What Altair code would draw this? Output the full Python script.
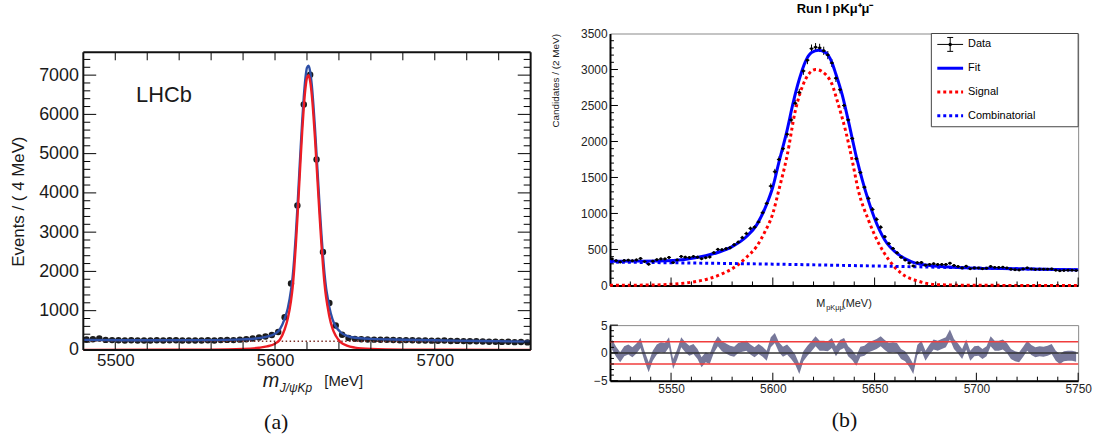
import altair as alt
import pandas as pd

FONT = "Liberation Sans"
SERIF = "Liberation Serif"

# ---------------- panel (a) ----------------
a_mass = list(range(5482, 5760, 4))
a_events = [265, 270, 290, 255, 250, 245, 240, 245, 240, 238,
            242, 245, 240, 248, 245, 240, 242, 238, 240, 245,
            242, 250, 255, 250, 262, 270, 290, 318, 340, 380,
            455, 834, 1693, 3682, 6250, 7008, 4852, 2494, 1195, 624,
            387, 303, 282, 272, 266, 262, 258, 260, 252, 248,
            250, 246, 242, 240, 236, 232, 238, 226, 230, 224,
            220, 222, 214, 210, 208, 204, 206, 198, 200, 192]
a_fit_m = [5480, 5520, 5560, 5580, 5590, 5595, 5600, 5603, 5606, 5608, 5610,
           5611, 5612, 5613, 5614, 5615, 5616, 5617, 5618, 5619, 5620,
           5621, 5622, 5623, 5624, 5625, 5626, 5627, 5628, 5629, 5630,
           5631, 5632, 5633, 5634,
           5636, 5638, 5641, 5645, 5650, 5660, 5680, 5700, 5730, 5760]
a_fit_n = [255, 245, 248, 268, 300, 340, 410, 520, 790, 1060, 1520,
           1850, 2320, 2920, 3610, 4360, 5110, 5820, 6440, 6910, 7190,
           7240, 7090, 6750, 6250, 5650, 4970, 4280, 3600, 2970, 2410,
           1930, 1570, 1320, 1090,
           780, 600, 450, 360, 310, 280, 260, 245, 228, 210]
a_sig_m = [5480, 5560, 5580, 5590, 5595, 5600, 5603, 5606, 5608, 5610,
           5611, 5612, 5613, 5614, 5615, 5616, 5617, 5618, 5619, 5620,
           5621, 5622, 5623, 5624, 5625, 5626, 5627, 5628, 5629, 5630,
           5631, 5632, 5633, 5634,
           5636, 5638, 5641, 5645, 5650, 5660, 5680, 5760]
a_sig_n = [0, 8, 25, 55, 90, 160, 260, 520, 800, 1250,
           1580, 2060, 2660, 3350, 4100, 4850, 5560, 6180, 6650, 6930,
           7000, 6840, 6500, 6000, 5400, 4720, 4030, 3350, 2720, 2160,
           1680, 1330, 1080, 850,
           540, 360, 200, 110, 60, 25, 8, 0]
a_bkg_m = [5480, 5760]
a_bkg_n = [228, 212]
a_xlabels = [5500, 5600, 5700]
a_ylabels = [0, 1000, 2000, 3000, 4000, 5000, 6000, 7000]
a_xticks = list(range(5500, 5760, 20))
a_ymajor = [1000, 2000, 3000, 4000, 5000, 6000, 7000]
a_yminor = [v for v in range(200, 7580, 200) if v % 1000]

# ---------------- panel (b) ----------------
b_mass = list(range(5521, 5750, 2))
b_cand = [368, 344, 325, 346, 351, 342, 355, 373, 331, 295,
          336, 358, 368, 368, 389, 317, 354, 402, 392, 388,
          402, 392, 371, 385, 395, 455, 500, 495, 510, 525,
          565, 600, 663, 720, 790, 808, 880, 1010, 1140, 1380,
          1580, 1750, 1900, 2100, 2300, 2530, 2680, 2980, 3130, 3290,
          3310, 3300, 3260, 3200, 3090, 2880, 2720, 2500, 2300, 2040,
          1760, 1568, 1365, 1209, 1056, 917, 808, 675, 581, 512,
          454, 391, 354, 311, 270, 317, 320, 282, 292, 300,
          291, 291, 291, 309, 277, 262, 243, 266, 232, 243,
          242, 232, 238, 264, 251, 250, 252, 242, 224, 217,
          214, 228, 244, 230, 223, 226, 224, 226, 230, 212,
          203, 209, 211, 210, 207]
b_pull = [1.5, 0.2, -0.8, 0.3, 0.6, 0.1, 0.8, 1.8, -0.6, -2.6,
          -0.5, 0.6, 1.0, 0.9, 1.9, -2.0, -0.3, 1.9, 1.0, 0.4,
          0.7, -0.2, -1.7, -0.8, -1.1, 0.9, 2.1, 1.2, 0.8, 0.4,
          0.2, 0.9, 1.1, 1.3, 0.6, 0.1, 0.7, 0.2, -0.5, 1.9,
          2.7, 1.0, 0.2, 0.6, -0.2, -1.2, -2.9, -0.6, 0.4, 1.2,
          2.1, 1.3, 1.3, 1.2, 1.8, 0.3, 1.4, 1.8, 0.3, -0.4,
          -1.4, 0.2, 0.4, 1.0, 1.3, 1.6, 2.1, 1.4, 0.9, 1.0,
          0.9, -0.2, -0.6, -1.6, -2.9, 0.5, 1.3, -0.5, 0.6, 1.5,
          1.3, 1.6, 1.9, 3.3, 1.6, 0.8, -0.2, 1.5, -0.5, 0.3,
          0.4, -0.2, 0.3, 2.1, 1.3, 1.3, 1.5, 0.9, -0.2, -0.6,
          -0.8, 0.2, 1.3, 0.5, 0.1, 0.3, 0.2, 0.4, 0.7, -0.5,
          -1.1, -0.6, -0.5, -0.5, -0.7]
b_fit_m = [5520, 5535, 5551, 5564, 5574, 5580, 5587, 5592, 5597, 5600,
           5603, 5607, 5610, 5613, 5616, 5619, 5622.5, 5626, 5629, 5631,
           5634, 5637, 5641, 5644, 5647, 5650, 5655, 5662, 5668, 5678,
           5696, 5720, 5750]
b_fit_n = [336, 338, 348, 395, 468, 540, 677, 838, 1130, 1368,
           1713, 2155, 2540, 2864, 3110, 3235, 3268, 3232, 3100, 2934,
           2657, 2300, 1790, 1460, 1175, 930, 631, 424, 331, 274,
           244, 231, 217]
b_sig_m = [5520, 5540, 5551, 5560, 5568, 5575, 5582, 5587, 5592, 5596,
           5600, 5603, 5607, 5611, 5616, 5618, 5621, 5624, 5626, 5629,
           5632, 5636, 5639, 5642, 5647, 5652, 5657, 5663, 5672, 5680,
           5700, 5750]
b_sig_n = [2, 6, 19, 45, 90, 160, 270, 390, 540, 740,
           1000, 1330, 1800, 2420, 2860, 2950, 3000, 2975, 2930, 2800,
           2530, 2120, 1736, 1322, 907, 585, 355, 171, 55, 12,
           2, 0]
b_comb_m = [5520, 5550, 5600, 5630, 5660, 5690, 5720, 5750]
b_comb_n = [325, 315, 296, 281, 265, 248, 231, 216]
b_xlabels = [5550, 5600, 5650, 5700, 5750]
b_ylabels = [0, 500, 1000, 1500, 2000, 2500, 3000, 3500]
b_xmajor = [5550, 5600, 5650, 5700, 5750]
b_xminor = [v for v in range(5530, 5750, 10) if v % 50]
b_ymajor = [500, 1000, 1500, 2000, 2500, 3000]
b_yminor = [v for v in range(100, 3500, 100) if v % 500]
p_ylabels = [-5, 0, 5]
p_ymajor = [-5, 0, 5]
p_yminor = [-4, -3, -2, -1, 1, 2, 3, 4]
p_red = [-2, 2]
p_zero = [0]
legend_labels = ["Data", "Fit", "Signal", "Combinatorial"]
title_b = "Run I pKμ⁺μ⁻"


def frame(**cols):
    return pd.DataFrame(cols)


def xrules(vals, scale, axis, y0, y1, color="#000", w=1):
    return alt.Chart(frame(v=vals)).mark_rule(color=color, strokeWidth=w).encode(
        x=alt.X("v:Q", scale=scale, axis=axis), y=alt.value(y0), y2=alt.value(y1))


def yrules(vals, scale, axis, x0, x1, color="#000", w=1):
    return alt.Chart(frame(v=vals)).mark_rule(color=color, strokeWidth=w).encode(
        y=alt.Y("v:Q", scale=scale, axis=axis), x=alt.value(x0), x2=alt.value(x1))


def seg(x0, x1, y0, y1, color="#000", w=1, dash=None):
    kw = dict(color=color, strokeWidth=w)
    if dash:
        kw["strokeDash"] = dash
    return alt.Chart(frame(k=[0])).mark_rule(**kw).encode(
        x=alt.value(x0), x2=alt.value(x1), y=alt.value(y0), y2=alt.value(y1))


def label(text, x, y, size, style="normal", color="#1a1a1a", align="left",
          baseline="alphabetic", font=FONT, weight="normal"):
    return alt.Chart(frame(t=[text])).mark_text(
        font=font, fontSize=size, fontStyle=style, color=color, align=align,
        baseline=baseline, fontWeight=weight).encode(
        x=alt.value(x), y=alt.value(y), text="t:N")


def xy(scx, axx, scy, axy, yfield="n:Q"):
    return dict(x=alt.X("m:Q", scale=scx, axis=axx), y=alt.Y(yfield, scale=scy, axis=axy))


# ================= left chart =================
WA, HA = 451, 300
xa = alt.Scale(domain=[5480, 5760], nice=False, zero=False)
ya = alt.Scale(domain=[0, 7580], nice=False, zero=True)

ax_ax = alt.Axis(values=a_xlabels, format="d", ticks=False, tickSize=0, domain=False,
                 grid=False, labelFontSize=17, labelPadding=3, labelColor="#1a1a1a",
                 labelFlush=False, labelOverlap=False,
                 title="(a)", titleFont=SERIF, titleFontSize=22, titleFontWeight="normal",
                 titleColor="#111", titlePadding=43, titleX=194)
ax_ay = alt.Axis(values=a_ylabels, format="d", ticks=False, tickSize=0, domain=False,
                 grid=False, labelFontSize=18, labelPadding=5, labelColor="#1a1a1a",
                 labelFlush=False, labelOverlap=False,
                 title="Events / ( 4 MeV)", titleFontSize=17, titleFontWeight="normal",
                 titleColor="#1a1a1a", titlePadding=11)

a_pts = alt.Chart(frame(m=a_mass, n=a_events)).mark_circle(
    size=42, color="#1c1c1c", opacity=1).encode(**xy(xa, ax_ax, ya, ax_ay))
a_bkg = alt.Chart(frame(m=a_bkg_m, n=a_bkg_n)).mark_line(
    color="#7b2d26", strokeWidth=1.5, strokeDash=[1.5, 2.5]).encode(**xy(xa, ax_ax, ya, ax_ay))
a_fit = alt.Chart(frame(m=a_fit_m, n=a_fit_n)).mark_line(
    color="#2d4fa6", strokeWidth=2.4, interpolate="monotone").encode(**xy(xa, ax_ax, ya, ax_ay))
a_sig = alt.Chart(frame(m=a_sig_m, n=a_sig_n)).mark_line(
    color="#ec1c24", strokeWidth=2.4, interpolate="monotone").encode(**xy(xa, ax_ax, ya, ax_ay))
lhcb = alt.Chart(frame(m=[5513], n=[6320], t=["LHCb"])).mark_text(
    fontSize=22, align="left", baseline="alphabetic", color="#1a1a1a").encode(
    text="t:N", **xy(xa, ax_ax, ya, ax_ay))

a_ticks = [
    xrules(a_xticks, xa, ax_ax, HA, HA - 8),
    xrules(a_xticks, xa, ax_ax, 0, 8),
    yrules(a_ymajor, ya, ax_ay, 0, 13),
    yrules(a_yminor, ya, ax_ay, 0, 7),
    yrules(a_ymajor, ya, ax_ay, WA, WA - 13),
    yrules(a_yminor, ya, ax_ay, WA, WA - 7),
    seg(0, WA, 0, 0, "#111", 2),
    seg(0, WA, HA, HA, "#111", 2),
    seg(0, 0, 0, HA, "#111", 2),
    seg(WA, WA, 0, HA, "#111", 2),
]
a_xtitle = [
    label("m", 181, HA + 37, 20, style="italic"),
    label("J/ψKp", 198, HA + 42, 12, style="italic"),
    label("[MeV]", 243, HA + 36, 15),
]

left = alt.layer(a_pts, a_bkg, a_fit, a_sig, lhcb, *a_ticks, *a_xtitle).properties(
    width=WA, height=HA,
    view=alt.ViewBackground(strokeOpacity=0, fill="white"))

spacer = alt.Chart(frame(k=[0])).mark_point(opacity=0).encode(
    x=alt.value(0), y=alt.value(0)).properties(
    width=WA, height=1, view=alt.ViewBackground(strokeOpacity=0, fillOpacity=0))
left_col = alt.vconcat(spacer, left, spacing=18, bounds="flush")

# ================= right main chart =================
WB, HB = 472, 254
xb = alt.Scale(domain=[5520, 5750], nice=False, zero=False)
yb = alt.Scale(domain=[0, 3500], nice=False, zero=True)

ax_bx = alt.Axis(labels=False, ticks=False, tickSize=0, domain=True, domainColor="#000",
                 domainWidth=2, grid=False, title="")
ax_by = alt.Axis(values=b_ylabels, format="d", ticks=False, tickSize=0, domain=True,
                 domainColor="#000", domainWidth=2, grid=False, labelFontSize=12,
                 labelPadding=3, labelColor="#222", labelFlush=False, labelOverlap=False,
                 title="Candidates / (2 MeV)", titleFontSize=10, titleFontWeight="normal",
                 titleColor="#222", titleAnchor="end", titlePadding=20)

b_df = frame(m=b_mass, n=b_cand)
b_yerr = alt.Chart(b_df).transform_calculate(
    lo="datum.n - sqrt(datum.n)", hi="datum.n + sqrt(datum.n)").mark_rule(
    color="#000", strokeWidth=1).encode(y2="hi:Q", **xy(xb, ax_bx, yb, ax_by, "lo:Q"))
b_xerr = alt.Chart(b_df).transform_calculate(
    l="datum.m - 1", r="datum.m + 1").mark_rule(color="#000", strokeWidth=1).encode(
    x=alt.X("l:Q", scale=xb, axis=ax_bx), x2="r:Q", y=alt.Y("n:Q", scale=yb, axis=ax_by))
b_pts = alt.Chart(b_df).mark_circle(size=9, color="#000", opacity=1).encode(
    **xy(xb, ax_bx, yb, ax_by))
b_sig = alt.Chart(frame(m=b_sig_m, n=b_sig_n)).mark_line(
    color="#ff0000", strokeWidth=3, strokeDash=[3, 3], interpolate="monotone").encode(
    **xy(xb, ax_bx, yb, ax_by))
b_comb = alt.Chart(frame(m=b_comb_m, n=b_comb_n)).mark_line(
    color="#0000ff", strokeWidth=3, strokeDash=[3, 3], interpolate="monotone").encode(
    **xy(xb, ax_bx, yb, ax_by))
b_fit = alt.Chart(frame(m=b_fit_m, n=b_fit_n)).mark_line(
    color="#0000ff", strokeWidth=3, interpolate="monotone").encode(
    **xy(xb, ax_bx, yb, ax_by))

b_ticks = [
    xrules(b_xmajor, xb, ax_bx, HB, HB - 8),
    xrules(b_xminor, xb, ax_bx, HB, HB - 4),
    yrules(b_ymajor, yb, ax_by, 0, 8),
    yrules(b_yminor, yb, ax_by, 0, 4),
]

rows_y = [11, 35, 59, 83]
legend = [
    alt.Chart(frame(k=[0])).mark_rect(fill="white", stroke="#444", strokeWidth=1).encode(
        x=alt.value(324), x2=alt.value(472), y=alt.value(0), y2=alt.value(94)),
    seg(343, 343, rows_y[0] - 7, rows_y[0] + 7, "#000", 1),
    seg(340, 346, rows_y[0] - 7, rows_y[0] - 7, "#000", 1),
    seg(340, 346, rows_y[0] + 7, rows_y[0] + 7, "#000", 1),
    seg(330, 356, rows_y[0], rows_y[0], "#000", 1),
    seg(330, 356, rows_y[1], rows_y[1], "#0000ff", 3),
    seg(330, 356, rows_y[2], rows_y[2], "#ff0000", 3, [3, 3]),
    seg(330, 356, rows_y[3], rows_y[3], "#0000ff", 3, [3, 3]),
    alt.Chart(frame(k=[0])).mark_circle(size=12, color="#000", opacity=1).encode(
        x=alt.value(343), y=alt.value(rows_y[0])),
]
legend += [label(t, 361, yy, 11, color="#000", baseline="middle")
           for t, yy in zip(legend_labels, rows_y)]

b_xtitle = [
    label("M", 208, HB + 22, 11, color="#222"),
    label("pKμμ", 218, HB + 25, 7.5, color="#222"),
    label("(MeV)", 234, HB + 22, 11, color="#222"),
]

main_b = alt.layer(b_yerr, b_sig, b_comb, b_fit, b_xerr, b_pts, *b_ticks, *legend,
                   *b_xtitle).properties(
    width=WB, height=HB,
    title=alt.TitleParams(text=title_b, fontSize=13, fontWeight="bold", anchor="middle",
                          dx=-9, offset=12, color="#000"),
    view=alt.ViewBackground(stroke="#888", strokeWidth=1, fill="white"))

# ================= pull chart =================
HP = 56
yp = alt.Scale(domain=[-5, 5], nice=False, zero=False)
ax_px = alt.Axis(values=b_xlabels, format="d", ticks=False, tickSize=0, domain=True,
                 domainColor="#000", domainWidth=2, grid=False, labelFontSize=12,
                 labelPadding=3, labelColor="#222", labelFlush=False, labelOverlap=False,
                 title="(b)", titleFont=SERIF, titleFontSize=22, titleFontWeight="normal",
                 titleColor="#111", titlePadding=15)
ax_py = alt.Axis(values=p_ylabels, format="d", ticks=False, tickSize=0, domain=True,
                 domainColor="#000", domainWidth=2, grid=False, labelFontSize=12,
                 labelPadding=3, labelColor="#222", labelFlush=False, labelOverlap=False,
                 title="")

p_band = alt.Chart(frame(m=b_mass, p=b_pull)).transform_calculate(
    lo="datum.p - 0.9", hi="datum.p + 0.9").mark_area(color="#77789a", opacity=1).encode(
    y2="hi:Q", **xy(xb, ax_px, yp, ax_py, "lo:Q"))
p_redl = alt.Chart(frame(v=p_red)).mark_rule(color="#f03c3c", strokeWidth=1.5).encode(
    y=alt.Y("v:Q", scale=yp, axis=ax_py))
p_zerol = alt.Chart(frame(v=p_zero)).mark_rule(color="#333", strokeWidth=1.5).encode(
    y=alt.Y("v:Q", scale=yp, axis=ax_py))
p_ticks = [
    xrules(b_xmajor, xb, ax_px, HP, HP - 8),
    xrules(b_xminor, xb, ax_px, HP, HP - 4),
    yrules(p_ymajor, yp, ax_py, 0, 8),
    yrules(p_yminor, yp, ax_py, 0, 4),
]
pull_b = alt.layer(p_band, p_redl, p_zerol, *p_ticks).properties(
    width=WB, height=HP,
    view=alt.ViewBackground(stroke="#888", strokeWidth=1, fill="white"))

right = alt.vconcat(main_b, pull_b, spacing=40, bounds="flush")

chart = alt.hconcat(left_col, right, spacing=14).properties(
    padding={"left": 9, "top": 0, "right": 4, "bottom": 2}
).configure(font=FONT, background="white")

chart.save("out.html", embed_options={"renderer": "svg", "actions": False})
